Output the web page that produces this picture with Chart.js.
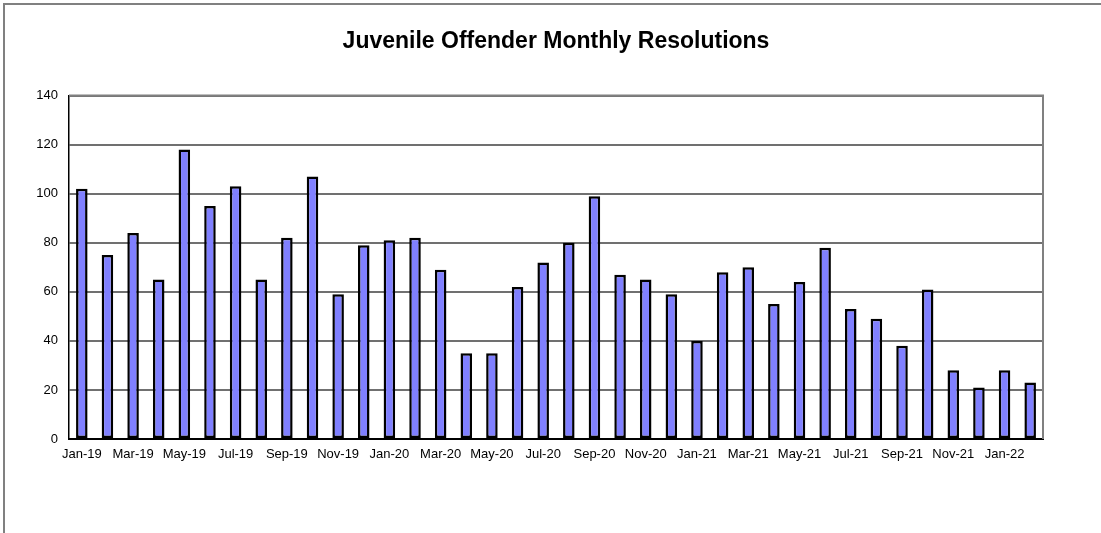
<!DOCTYPE html>
<html>
<head>
<meta charset="utf-8">
<script src="https://cdn.jsdelivr.net/npm/chart.js@4.4.1/dist/chart.umd.min.js"></script>
<style>
  html, body { margin: 0; padding: 0; background: #fff; }
  #wrap { position: relative; width: 1101px; height: 533px; overflow: hidden; }
  #frame { position: absolute; left: 3px; top: 3px; width: 1300px; height: 800px; border: 2px solid #808080; box-sizing: border-box; }
  canvas { position: absolute; left: 0; top: 0; }
</style>
</head>
<body>
<div id="wrap">
  <div id="frame"></div>
  <canvas id="c" width="1101" height="533"></canvas>
</div>
<script>
const months = ["Jan-19","Feb-19","Mar-19","Apr-19","May-19","Jun-19","Jul-19","Aug-19","Sep-19","Oct-19","Nov-19","Dec-19",
  "Jan-20","Feb-20","Mar-20","Apr-20","May-20","Jun-20","Jul-20","Aug-20","Sep-20","Oct-20","Nov-20","Dec-20",
  "Jan-21","Feb-21","Mar-21","Apr-21","May-21","Jun-21","Jul-21","Aug-21","Sep-21","Oct-21","Nov-21","Dec-21",
  "Jan-22","Feb-22"];
const resolutions = [102,75,84,65,118,95,103,65,82,107,59,79,
  81,82,69,35,35,62,72,80,99,67,65,59,
  40,68,70,55,64,78,53,49,38,61,28,21,
  28,23];
const yTicks = [0,20,40,60,80,100,120,140];
const chartTitle = "Juvenile Offender Monthly Resolutions";

const plotFrame = {
  id: 'plotFrame',
  beforeDatasetsDraw(chart) {
    const a = chart.chartArea, ctx = chart.ctx;
    ctx.save();
    ctx.strokeStyle = '#808080';
    ctx.lineWidth = 2;
    ctx.beginPath();
    ctx.moveTo(a.left, a.top);
    ctx.lineTo(a.right, a.top);
    ctx.lineTo(a.right, a.bottom);
    ctx.stroke();
    ctx.restore();
  }
};

new Chart(document.getElementById('c'), {
  type: 'bar',
  data: {
    labels: months,
    datasets: [{
      data: resolutions,
      backgroundColor: '#8080FF',
      borderColor: '#000000',
      borderWidth: 2.5,
      borderSkipped: false,
      barPercentage: 0.45,
      categoryPercentage: 1.0
    }]
  },
  options: {
    responsive: false,
    animation: false,
    devicePixelRatio: 1,
    layout: { padding: { left: 0, right: 58, top: 0, bottom: 0 } },
    plugins: {
      legend: { display: false },
      tooltip: { enabled: false },
      title: {
        display: true,
        fullSize: false,
        text: chartTitle,
        color: '#000',
        font: { family: 'Liberation Sans, Arial, sans-serif', size: 23, weight: 'bold' },
        padding: { top: 28, bottom: 40 }
      }
    },
    scales: {
      x: {
        type: 'category',
        grid: { display: false, drawTicks: false },
        border: { display: true, color: '#000', width: 2 },
        ticks: {
          autoSkip: false,
          maxRotation: 0,
          minRotation: 0,
          padding: 8,
          color: '#000',
          font: { family: 'Liberation Sans, Arial, sans-serif', size: 13 },
          callback: function(v, i) { return i % 2 === 0 ? this.getLabelForValue(v) : ''; }
        },
        afterFit(s) { s.height = 94; }
      },
      y: {
        min: 0,
        max: 140,
        afterBuildTicks(s) { s.ticks = yTicks.map(v => ({ value: v })); },
        grid: { color: '#707070', lineWidth: 2, drawTicks: false },
        border: { display: true, color: '#000', width: 1.5 },
        ticks: {
          padding: 11,
          color: '#000',
          font: { family: 'Liberation Sans, Arial, sans-serif', size: 13 }
        },
        afterFit(s) { s.width = 69; }
      }
    }
  },
  plugins: [plotFrame]
});
</script>
</body>
</html>
